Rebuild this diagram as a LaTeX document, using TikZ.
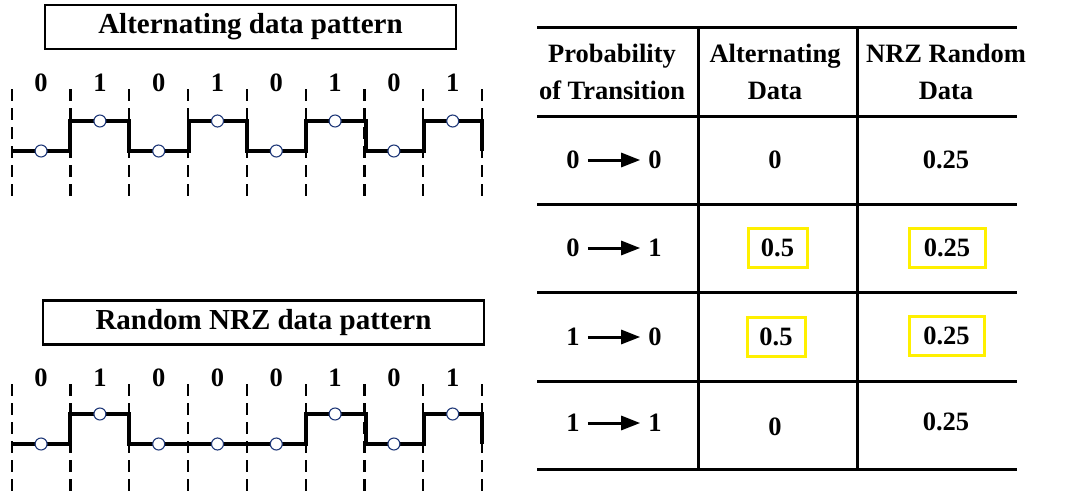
\documentclass[tikz,border=0pt]{standalone}
\usepackage{fontspec}
\setmainfont{Liberation Serif}
\usetikzlibrary{arrows.meta}
\definecolor{dotblue}{RGB}{31,56,120}
\definecolor{hilite}{RGB}{255,240,0}
\begin{document}
\begin{tikzpicture}[x=1pt,y=-1pt,
  txt/.style={font=\fontsize{26.5}{37}\selectfont\bfseries, inner sep=0pt, align=center},
  titlebox/.style={draw, line width=2.8pt, minimum height=44pt, inner sep=0pt,
    font=\fontsize{29}{32}\selectfont\bfseries},
  wave/.style={line width=4pt, line join=miter},
  grid/.style={line width=2.2pt, dash pattern=on 12pt off 7pt},
  sample/.style={circle, draw=dotblue, fill=white, line width=1.1pt, minimum size=12pt, inner sep=0pt},
  rule/.style={line width=3pt},
  hbox/.style={draw=hilite, line width=3pt, minimum height=39pt, inner sep=0pt},
  trans/.style={line width=3pt, -{Triangle[length=19pt,width=14pt]}, shorten <=8pt, shorten >=8pt}
]
\useasboundingbox (0,0) rectangle (1089,493);

% ---------- alternating pattern ----------
\node[titlebox, minimum width=411pt] (t1) at (250.5,27) {Alternating data pattern};
\foreach \k in {0,...,8} {
  \draw[grid] ({11.7+58.8*\k},89) -- ({11.7+58.8*\k},200);
}
\draw[wave] (11.7,151) -- (70,151) -- (70,121) -- (129,121) -- (129,151) -- (189,151)
  -- (189,121) -- (247,121) -- (247,151) -- (306,151) -- (306,121) -- (366,121)
  -- (366,151) -- (424,151) -- (424,121) -- (482,121) -- (482,151);
\foreach \b [count=\i from 0] in {0,1,0,1,0,1,0,1} {
  \node[txt] (ab\i) at ({41.1+58.8*\i},83) {\b};
  \ifnum\b=1
    \node[sample] (as\i) at ({41.1+58.8*\i},121) {};
  \else
    \node[sample] (as\i) at ({41.1+58.8*\i},151) {};
  \fi
}

% ---------- random NRZ pattern ----------
\node[titlebox, minimum width=441pt] (t2) at (263.5,322.5) {Random NRZ data pattern};
\foreach \k in {0,...,8} {
  \draw[grid] ({11.7+58.8*\k},384) -- ({11.7+58.8*\k},493);
}
\draw[wave] (11.7,444) -- (70,444) -- (70,414) -- (129,414) -- (129,444) -- (306,444)
  -- (306,414) -- (366,414) -- (366,444) -- (424,444) -- (424,414) -- (482,414) -- (482,444);
\foreach \b [count=\i from 0] in {0,1,0,0,0,1,0,1} {
  \node[txt] (rb\i) at ({41.1+58.8*\i},378) {\b};
  \ifnum\b=1
    \node[sample] (rs\i) at ({41.1+58.8*\i},414) {};
  \else
    \node[sample] (rs\i) at ({41.1+58.8*\i},444) {};
  \fi
}

% ---------- transition table ----------
\foreach \y in {27,116,204,292,381,469} {
  \draw[rule] (537,\y) -- (1017,\y);
}
\draw[rule] (698,27) -- (698,469);
\draw[rule] (857,27) -- (857,469);

\node[txt] (h1) at (612,71.5) {Probability\\of Transition};
\node[txt] (h2) at (775,71.5) {Alternating\\Data};
\node[txt] (h3) at (946,71.5) {NRZ Random\\Data};

% row 0 -> 0
\node[txt] (f1) at (573,160) {0};
\node[txt] (g1) at (655,160) {0};
\draw[trans] (f1) -- (g1);
\node[txt] (a1) at (775,160) {0};
\node[txt] (n1) at (946,160) {0.25};

% row 0 -> 1
\node[txt] (f2) at (573,248) {0};
\node[txt] (g2) at (655,248) {1};
\draw[trans] (f2) -- (g2);
\node[txt, hbox, minimum width=59pt] (a2) at (777.5,247.5) {0.5};
\node[txt, hbox, minimum width=76pt] (n2) at (947,247.5) {0.25};

% row 1 -> 0
\node[txt] (f3) at (573,337) {1};
\node[txt] (g3) at (655,337) {0};
\draw[trans] (f3) -- (g3);
\node[txt, hbox, minimum width=58pt] (a3) at (776,337) {0.5};
\node[txt, hbox, minimum width=75pt] (n3) at (946.5,335.5) {0.25};

% row 1 -> 1
\node[txt] (f4) at (573,423) {1};
\node[txt] (g4) at (655,423) {1};
\draw[trans] (f4) -- (g4);
\node[txt] (a4) at (775,427) {0};
\node[txt] (n4) at (946,422) {0.25};
\end{tikzpicture}
\end{document}
